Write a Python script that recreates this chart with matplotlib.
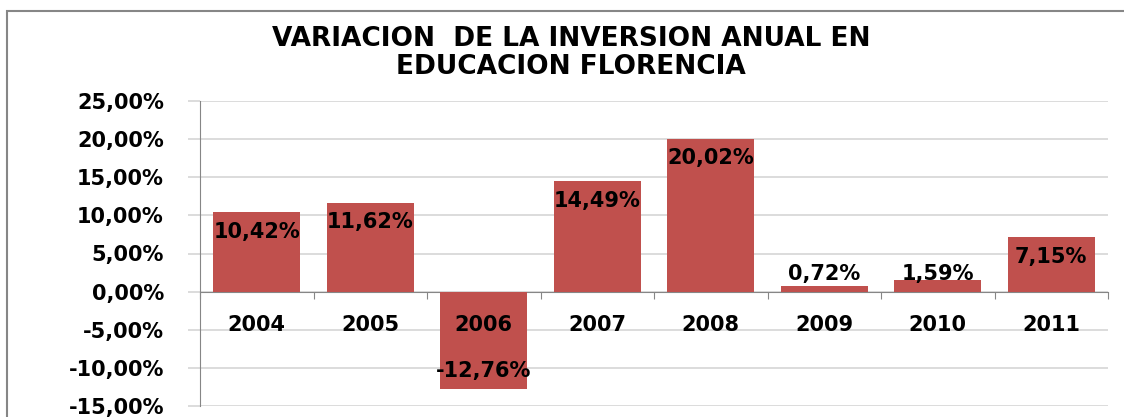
import matplotlib
matplotlib.use("Agg")
import matplotlib.pyplot as plt
from matplotlib.patches import Rectangle
from matplotlib.ticker import FuncFormatter, MultipleLocator

# data
years = ["2004", "2005", "2006", "2007", "2008", "2009", "2010", "2011"]
variation = [10.42, 11.62, -12.76, 14.49, 20.02, 0.72, 1.59, 7.15]
title = "VARIACION  DE LA INVERSION ANUAL EN\nEDUCACION FLORENCIA"

bar_color = "#C0504D"
grid_color = "#d9d9d9"
axis_color = "#868686"


def pct(v):
    return f"{v:.2f}".replace(".", ",") + "%"


fig = plt.figure(figsize=(11.24, 4.17), dpi=100)
ax = fig.add_axes([200 / 1124, 11 / 417, 908 / 1124, 305 / 417])

x = range(len(years))
ax.bar(x, variation, width=0.77, color=bar_color, zorder=3)

ax.set_xlim(-0.5, len(years) - 0.5)
ax.set_ylim(-15, 25)
ax.yaxis.set_major_locator(MultipleLocator(5))
ax.yaxis.set_major_formatter(FuncFormatter(lambda v, _: pct(v)))
ax.grid(axis="y", color=grid_color, lw=1.3, zorder=0)
ax.set_axisbelow(True)

for s in ["top", "right"]:
    ax.spines[s].set_visible(False)
ax.spines["left"].set_color(axis_color)
ax.spines["bottom"].set_position(("data", 0))
ax.spines["bottom"].set_color(axis_color)
ax.spines["bottom"].set_linewidth(0.8)

ax.tick_params(axis="y", length=9, color=grid_color, width=1.3, pad=17,
               labelsize=15)
for lab in ax.get_yticklabels():
    lab.set_fontweight("bold")

# category boundaries as small ticks, labels drawn on top of the bars
ax.set_xticks([i - 0.5 for i in range(len(years) + 1)])
ax.tick_params(axis="x", length=5, color=axis_color, labelbottom=False)
for i, yr in enumerate(years):
    ax.annotate(yr, (i, 0), xytext=(0, -24), textcoords="offset points",
                ha="center", va="center", fontsize=15, fontweight="bold",
                zorder=6)

# data labels (inside end, small bars get pushed above the base)
for i, v in enumerate(variation):
    if abs(v) < 3:
        y, dy = 0, 13
    elif v > 0:
        y, dy = v, -14
    else:
        y, dy = v, 13
    ax.annotate(pct(v), (i, y), xytext=(0, dy), textcoords="offset points",
                ha="center", va="center", fontsize=15, fontweight="bold",
                zorder=6)

fig.text(571 / 1124, 1 - 53 / 417, title, ha="center", va="center",
         fontsize=19, fontweight="bold", family="DejaVu Sans", linespacing=1.05)

# chart area border (runs past the right/bottom edge of the picture)
fig.add_artist(Rectangle((7 / 1124, -0.1), 1.2, 1.1 - 11 / 417,
                         transform=fig.transFigure, fill=False,
                         edgecolor=axis_color, lw=1.5))

fig.savefig("out.png", dpi=100)
